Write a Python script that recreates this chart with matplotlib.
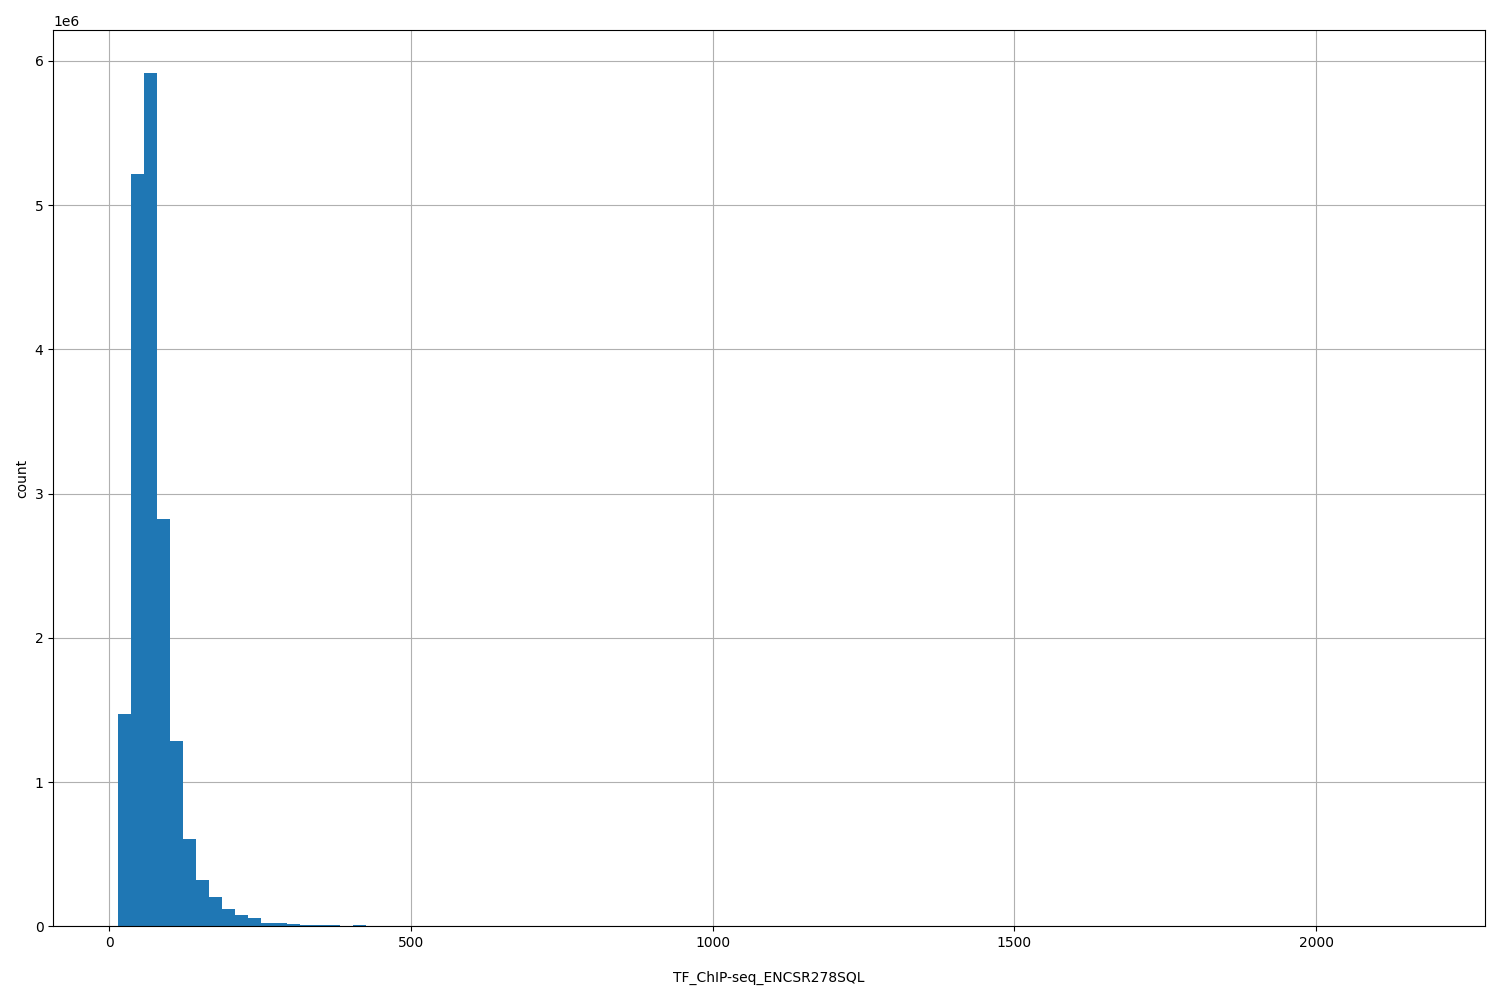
import numpy as np
import matplotlib
matplotlib.use("Agg")
import matplotlib.pyplot as plt

# histogram of TF ChIP-seq signal, 100 bins from 15 to 2172
bin_lo = 15.0
bin_hi = 2172.0
n_bins = 100

counts_head = [1470000, 5215000, 5917000, 2826000, 1285000,
               604000, 320000, 200000, 118000, 76000,
               55000, 20000, 20000, 15000, 8000,
               8000, 8000, 1500, 8000, 1200]
counts_tail = [900, 700, 500, 400, 300, 250, 200, 150, 120, 100,
               80, 60, 50, 40, 30, 25, 20, 15, 12, 10,
               8, 7, 6, 5, 4, 4, 3, 3, 2, 2,
               2, 2, 1, 1, 1, 1, 1, 1, 1, 0,
               1, 0, 1, 0, 0, 1, 0, 0, 1, 0,
               0, 0, 1, 0, 0, 0, 0, 1, 0, 0,
               0, 0, 0, 0, 1, 0, 0, 0, 0, 0,
               0, 0, 0, 0, 0, 0, 0, 0, 0, 1]
counts = np.array(counts_head + counts_tail, dtype=float)

edges = np.linspace(bin_lo, bin_hi, n_bins + 1)
centers = 0.5 * (edges[:-1] + edges[1:])

fig, ax = plt.subplots(figsize=(15, 10), dpi=100)
ax.hist(centers, bins=edges, weights=counts, color="#1f77b4")
ax.grid(True)
ax.set_axisbelow(True)
ax.set_xlabel("TF_ChIP-seq_ENCSR278SQL", labelpad=15)
ax.set_ylabel("count")
fig.tight_layout()
fig.savefig("out.png")
